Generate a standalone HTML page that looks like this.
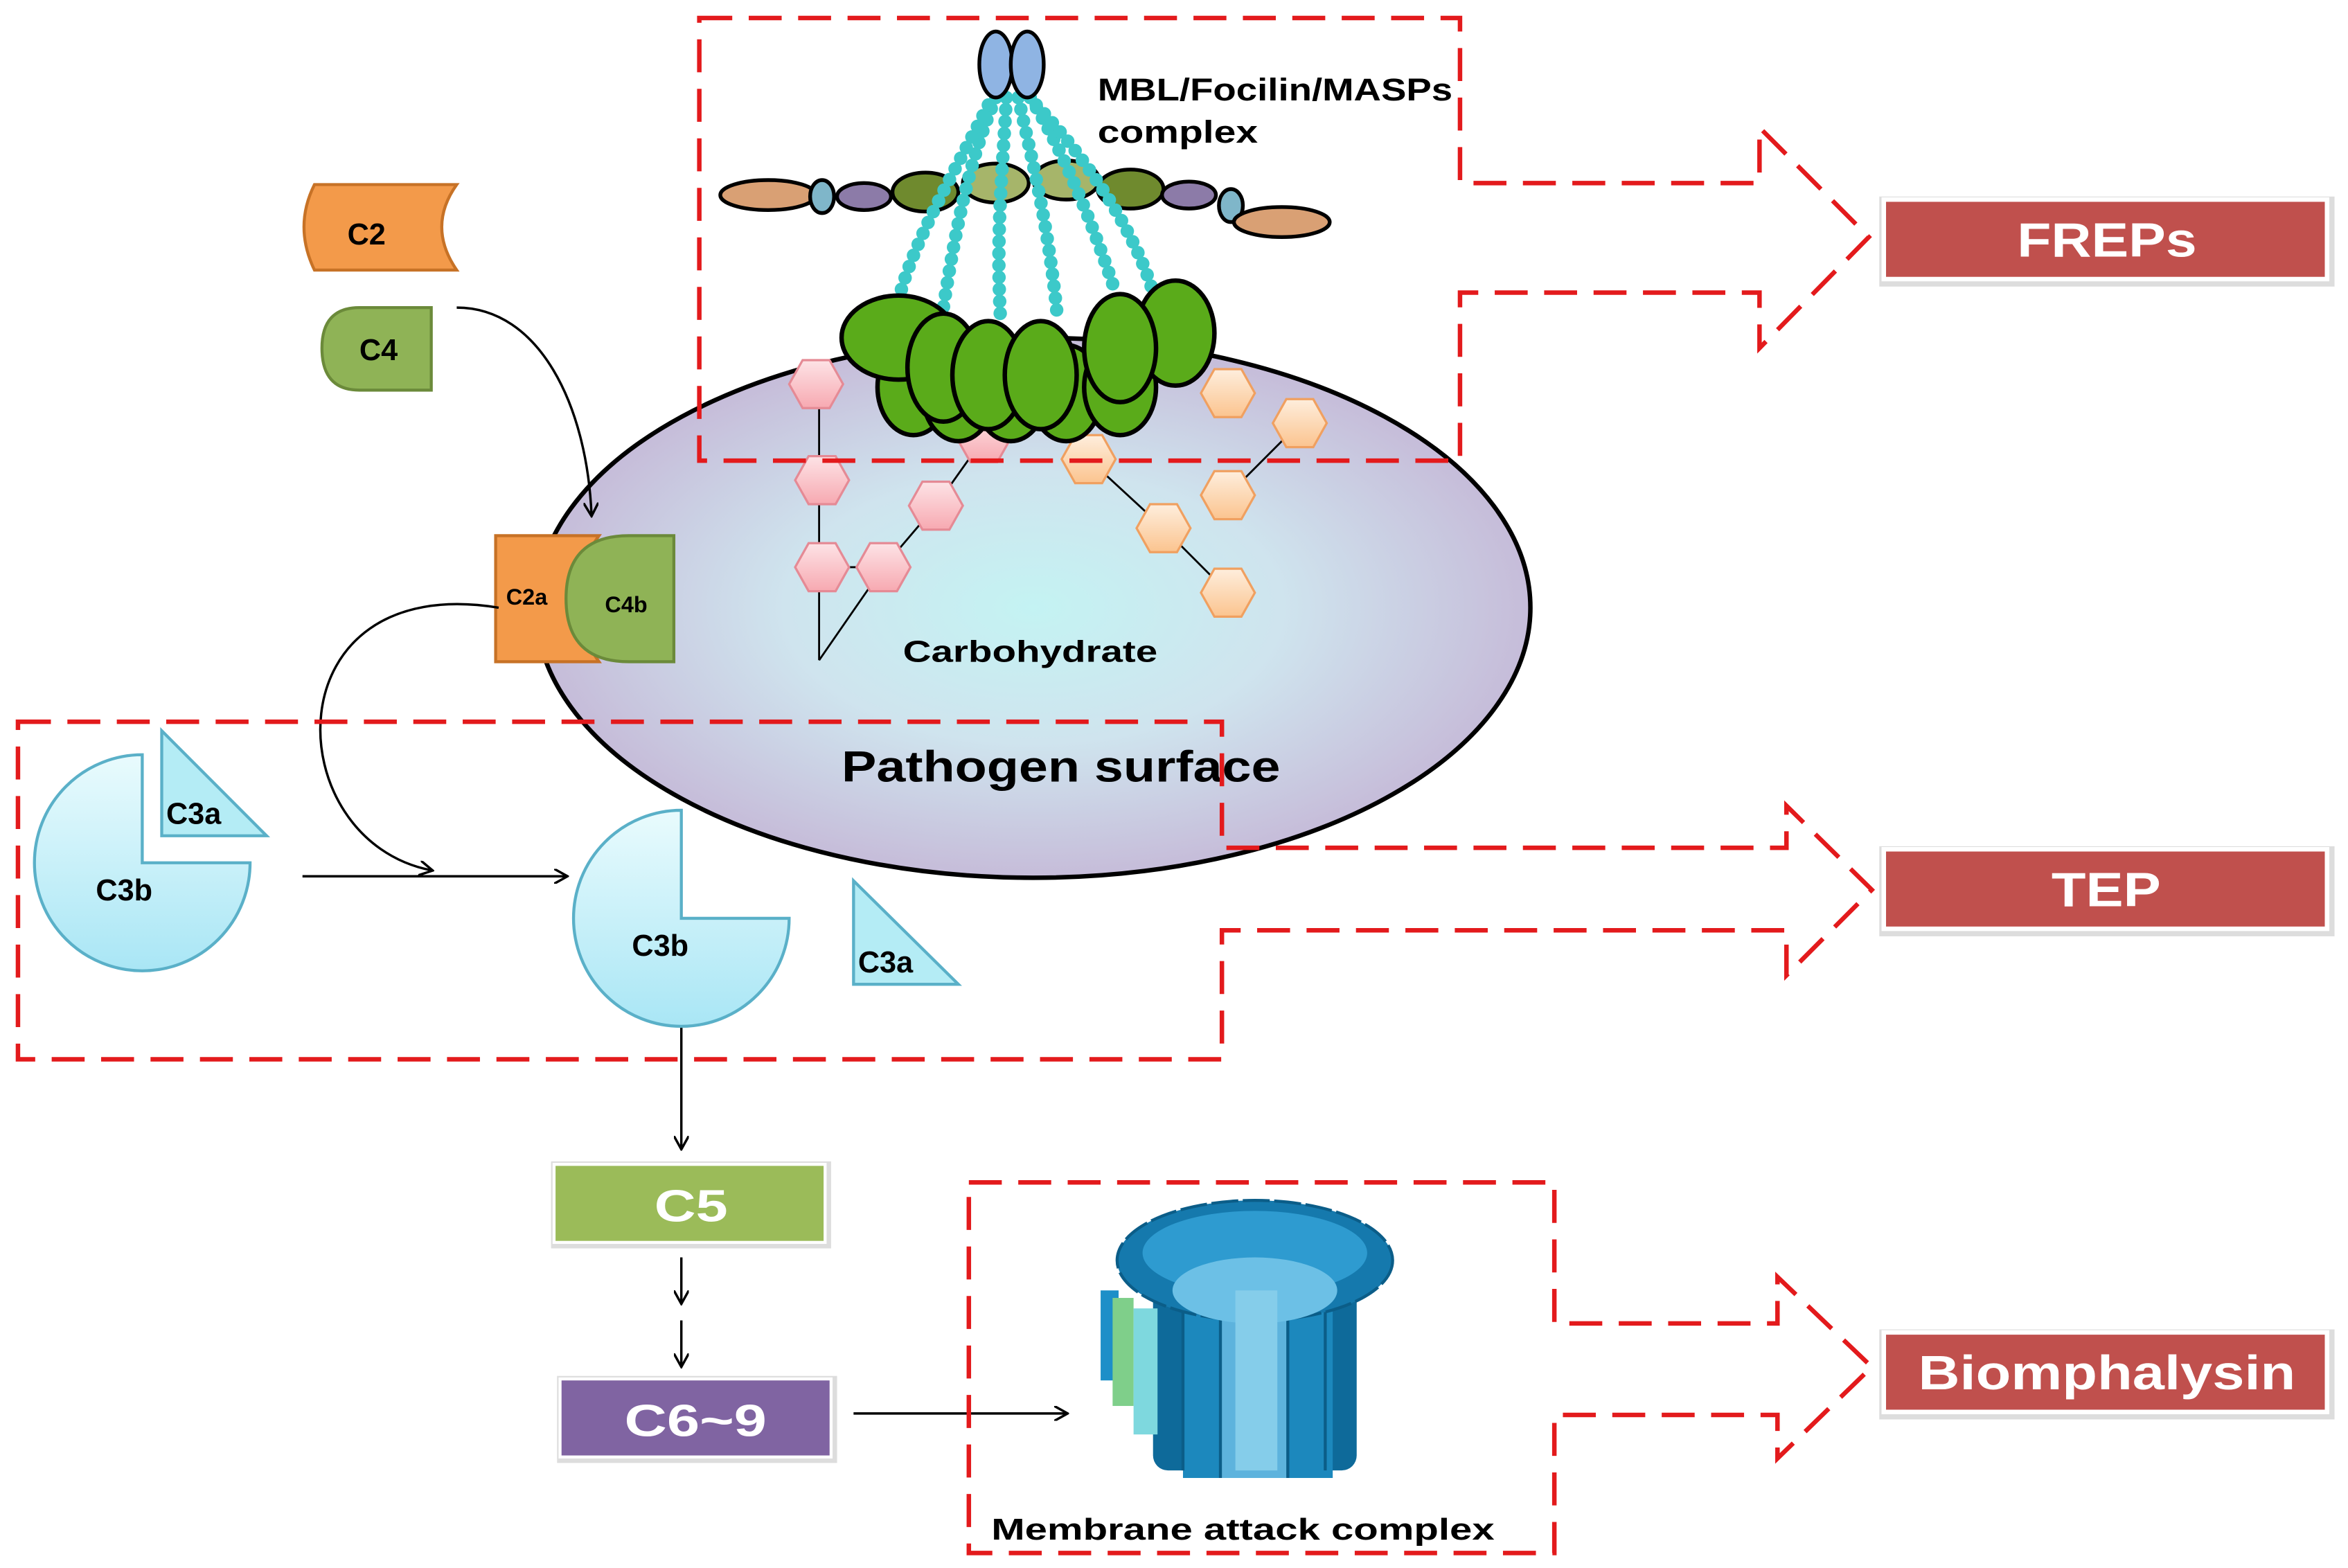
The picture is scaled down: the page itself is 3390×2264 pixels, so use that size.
<!DOCTYPE html>
<html><head><meta charset="utf-8"><style>
html,body{margin:0;padding:0;background:#fff;}
svg{display:block;}
text{font-family:"Liberation Sans",sans-serif;font-weight:bold;}
</style></head><body>
<svg width="3390" height="2264" viewBox="0 0 1568 1045" preserveAspectRatio="none" xmlns="http://www.w3.org/2000/svg">
<defs>
<radialGradient id="pg" cx="0.5" cy="0.5" r="0.5">
<stop offset="0" stop-color="#c4f3f3"/><stop offset="0.5" stop-color="#cfe4ee"/><stop offset="1" stop-color="#c6bcd9"/>
</radialGradient>
<linearGradient id="cg" x1="0" y1="0" x2="0" y2="1"><stop offset="0" stop-color="#e9fbfd"/><stop offset="1" stop-color="#a9e6f5"/></linearGradient>
<linearGradient id="hp" x1="0" y1="0" x2="0" y2="1"><stop offset="0" stop-color="#fde3e6"/><stop offset="1" stop-color="#f7a9b1"/></linearGradient>
<linearGradient id="ho" x1="0" y1="0" x2="0" y2="1"><stop offset="0" stop-color="#feeedd"/><stop offset="1" stop-color="#fbc48f"/></linearGradient>
<marker id="ar" markerWidth="10" markerHeight="10" refX="8" refY="5" orient="auto" markerUnits="userSpaceOnUse"><path d="M0,0 L9,5 L0,10" fill="none" stroke="#000" stroke-width="1.6"/></marker>
<g id="hexp"><polygon points="-18,0 -9,-16 9,-16 18,0 9,16 -9,16" fill="url(#hp)" stroke="#e58a95" stroke-width="1.5"/></g>
<g id="hexo"><polygon points="-18,0 -9,-16 9,-16 18,0 9,16 -9,16" fill="url(#ho)" stroke="#f0a060" stroke-width="1.5"/></g>
</defs>

<ellipse cx="690" cy="405" rx="332" ry="180" fill="url(#pg)" stroke="#000" stroke-width="3"/>

<g stroke="#000" stroke-width="1.3" fill="none">
<path d="M547,255 L547,440 M547,440 L590,378 L625,337 L657,292 M590,378 L547,378 M727,306 L777,352 L820,395 M820,330 L868,282"/>
</g>
<use href="#hexp" x="545" y="256"/><use href="#hexp" x="549" y="320"/><use href="#hexp" x="549" y="378"/>
<use href="#hexp" x="590" y="378"/><use href="#hexp" x="625" y="337"/><use href="#hexp" x="657" y="292"/>
<use href="#hexo" x="727" y="306"/><use href="#hexo" x="777" y="352"/><use href="#hexo" x="820" y="395"/>
<use href="#hexo" x="820" y="330"/><use href="#hexo" x="868" y="282"/><use href="#hexo" x="820" y="262"/>

<g stroke="#000" stroke-width="2.5">
<ellipse cx="513" cy="130" rx="32" ry="10" fill="#d9a074"/>
<ellipse cx="549" cy="131" rx="8" ry="11" fill="#7fb6c9"/>
<ellipse cx="577" cy="131" rx="18" ry="9" fill="#8c7ba8"/>
<ellipse cx="618" cy="128" rx="22" ry="13" fill="#6f8a2e"/>
<ellipse cx="665" cy="122" rx="22" ry="13" fill="#a6b56a"/>
<ellipse cx="712" cy="120" rx="22" ry="13" fill="#a6b56a"/>
<ellipse cx="755" cy="126" rx="22" ry="13" fill="#6f8a2e"/>
<ellipse cx="794" cy="130" rx="18" ry="9" fill="#8c7ba8"/>
<ellipse cx="822" cy="137" rx="8" ry="11" fill="#7fb6c9"/>
<ellipse cx="856" cy="148" rx="32" ry="10" fill="#d9a074"/>
</g>
<g stroke="#3cc9c9" stroke-width="9" fill="none" stroke-dasharray="0 8" stroke-linecap="round">
<path d="M665,65 C650,100 640,140 630,205"/>
<path d="M672,65 C670,110 665,150 668,210"/>
<path d="M680,65 C690,110 700,150 706,210"/>
<path d="M688,65 C710,100 730,150 745,195"/>
<path d="M660,70 C640,110 610,160 600,200"/>
<path d="M692,70 C730,110 760,160 770,195"/>
</g>
<ellipse cx="665" cy="43" rx="11" ry="22" fill="#8fb4e3" stroke="#000" stroke-width="2.5"/>
<ellipse cx="686" cy="43" rx="11" ry="22" fill="#8fb4e3" stroke="#000" stroke-width="2.5"/>
<g fill="#5aab1a" stroke="#000" stroke-width="3">
<ellipse cx="610" cy="258" rx="24" ry="32"/>
<ellipse cx="640" cy="262" rx="24" ry="32"/>
<ellipse cx="675" cy="262" rx="24" ry="32"/>
<ellipse cx="712" cy="262" rx="24" ry="32"/>
<ellipse cx="748" cy="258" rx="24" ry="32"/>
<ellipse cx="785" cy="222" rx="26" ry="35"/>
<ellipse cx="600" cy="225" rx="38" ry="28"/>
<ellipse cx="630" cy="245" rx="24" ry="36"/>
<ellipse cx="660" cy="250" rx="24" ry="36"/>
<ellipse cx="748" cy="232" rx="24" ry="36"/>
<ellipse cx="695" cy="250" rx="24" ry="36"/>
</g>
<text x="733" y="67" font-size="21" textLength="237" lengthAdjust="spacingAndGlyphs">MBL/Focilin/MASPs</text>
<text x="733" y="95" font-size="21" textLength="107" lengthAdjust="spacingAndGlyphs">complex</text>

<text x="603" y="441" font-size="20" textLength="170" lengthAdjust="spacingAndGlyphs">Carbohydrate</text>
<text x="562" y="521" font-size="29" textLength="293" lengthAdjust="spacingAndGlyphs">Pathogen surface</text>

<path d="M210,123 L305,123 Q285,151 305,180 L210,180 Q196,151 210,123 Z" fill="#f39a4a" stroke="#c77226" stroke-width="2"/>
<text x="232" y="163" font-size="20">C2</text>
<path d="M240,205 L288,205 L288,260 L240,260 Q215,260 215,232 Q215,205 240,205 Z" fill="#8fb356" stroke="#6b8a3a" stroke-width="2"/>
<text x="240" y="240" font-size="20">C4</text>
<path d="M305,205 C360,205 392,270 395,343" fill="none" stroke="#000" stroke-width="1.6" marker-end="url(#ar)"/>

<path d="M331,357 L400,357 Q370,399 400,441 L331,441 Z" fill="#f39a4a" stroke="#c77226" stroke-width="2"/>
<path d="M450,357 L450,441 L420,441 Q378,441 378,399 Q378,357 420,357 Z" fill="#8fb356" stroke="#6b8a3a" stroke-width="2"/>
<text x="338" y="403" font-size="15">C2a</text>
<text x="404" y="408" font-size="15">C4b</text>
<path d="M333,405 C180,380 185,560 288,580" fill="none" stroke="#000" stroke-width="1.6" marker-end="url(#ar)"/>

<path d="M95,575 L95,503 A72,72 0 1 0 167,575 Z" fill="url(#cg)" stroke="#5ab0c8" stroke-width="2"/>
<polygon points="108,487 108,557 178,557" fill="#b4ecf5" stroke="#5ab0c8" stroke-width="2"/>
<text x="64" y="600" font-size="20">C3b</text>
<text x="111" y="549" font-size="20">C3a</text>
<line x1="202" y1="584" x2="378" y2="584" stroke="#000" stroke-width="1.6" marker-end="url(#ar)"/>
<path d="M455,612 L455,540 A72,72 0 1 0 527,612 Z" fill="url(#cg)" stroke="#5ab0c8" stroke-width="2"/>
<text x="422" y="637" font-size="20">C3b</text>
<polygon points="570,587 570,656 640,656" fill="#b4ecf5" stroke="#5ab0c8" stroke-width="2"/>
<text x="573" y="648" font-size="20">C3a</text>

<g stroke="#000" stroke-width="1.6" marker-end="url(#ar)">
<line x1="455" y1="685" x2="455" y2="765"/>
<line x1="455" y1="838" x2="455" y2="868"/>
<line x1="455" y1="880" x2="455" y2="910"/>
<line x1="570" y1="942" x2="712" y2="942"/>
</g>
<rect x="368" y="774" width="187" height="58" fill="#ddd"/>
<rect x="370" y="776" width="181" height="52" fill="#9bbb59" stroke="#fff" stroke-width="2"/>
<text x="437" y="814" font-size="30" fill="#fff" textLength="49" lengthAdjust="spacingAndGlyphs">C5</text>
<rect x="372" y="917" width="187" height="58" fill="#ddd"/>
<rect x="374" y="919" width="181" height="52" fill="#8064a2" stroke="#fff" stroke-width="2"/>
<text x="417" y="957" font-size="30" fill="#fff" textLength="95" lengthAdjust="spacingAndGlyphs">C6~9</text>

<g>
<rect x="770" y="840" width="136" height="140" fill="#0e6a9a" rx="10"/>
<rect x="790" y="850" width="100" height="135" fill="#1c88bd"/>
<rect x="815" y="850" width="45" height="135" fill="#5db3dd"/>
<g stroke="#0b5d88" stroke-width="2"><line x1="790" y1="860" x2="790" y2="980"/><line x1="815" y1="860" x2="815" y2="985"/><line x1="860" y1="860" x2="860" y2="985"/><line x1="885" y1="860" x2="885" y2="980"/></g>
<ellipse cx="838" cy="840" rx="92" ry="40" fill="#1579ad" stroke="#0b5d88" stroke-width="2" stroke-dasharray="18 3"/>
<ellipse cx="838" cy="835" rx="75" ry="28" fill="#2e9bd0"/>
<ellipse cx="838" cy="860" rx="55" ry="22" fill="#6cc0e6"/>
<rect x="825" y="860" width="28" height="120" fill="#85cdea"/>
<rect x="735" y="860" width="12" height="60" fill="#1d8fc8"/>
<rect x="743" y="865" width="14" height="72" fill="#7fcf8a"/>
<rect x="757" y="872" width="16" height="84" fill="#7ed8de"/>
</g>
<text x="662" y="1026" font-size="20" textLength="336" lengthAdjust="spacingAndGlyphs">Membrane attack complex</text>

<g fill="none" stroke="#e31a1c" stroke-width="3" stroke-dasharray="22 11">
<path d="M467,12 L975,12 L975,122 L1175,122 L1175,85 L1248,158 L1175,232 L1175,195 L975,195 L975,307 L467,307 Z"/>
<path d="M12,481 L816,481 L816,565 L1193,565 L1193,537 L1250,593 L1193,650 L1193,620 L816,620 L816,706 L12,706 Z"/>
<path d="M647,788 L1038,788 L1038,882 L1187,882 L1187,851 L1250,911 L1187,972 L1187,943 L1038,943 L1038,1035 L647,1035 Z"/>
</g>

<g>
<rect x="1255" y="131" width="304" height="60" fill="#ddd"/>
<rect x="1258" y="133" width="296" height="53" fill="#c0504d" stroke="#fff" stroke-width="3"/>
<text x="1347" y="171" font-size="32" fill="#fff" textLength="120" lengthAdjust="spacingAndGlyphs">FREPs</text>
<rect x="1255" y="564" width="304" height="60" fill="#ddd"/>
<rect x="1258" y="566" width="296" height="53" fill="#c0504d" stroke="#fff" stroke-width="3"/>
<text x="1370" y="604" font-size="32" fill="#fff" textLength="73" lengthAdjust="spacingAndGlyphs">TEP</text>
<rect x="1255" y="886" width="304" height="60" fill="#ddd"/>
<rect x="1258" y="888" width="296" height="53" fill="#c0504d" stroke="#fff" stroke-width="3"/>
<text x="1281" y="926" font-size="32" fill="#fff" textLength="252" lengthAdjust="spacingAndGlyphs">Biomphalysin</text>
</g>
</svg>
</body></html>
